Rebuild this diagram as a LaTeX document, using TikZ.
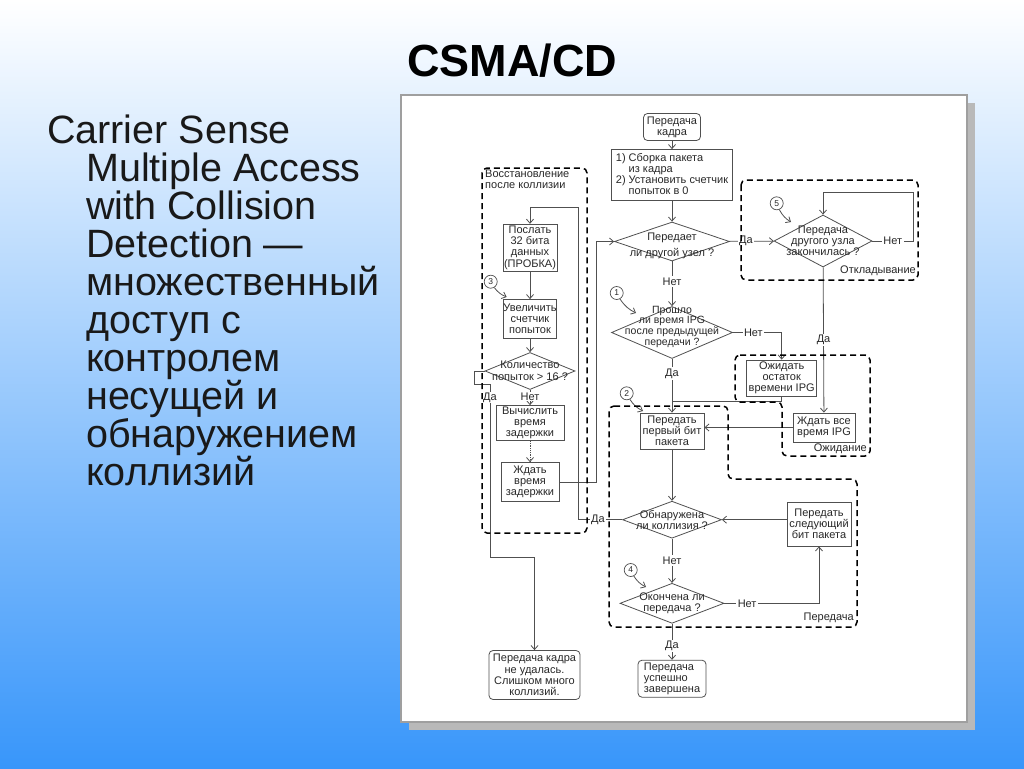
\documentclass[tikz,border=0pt]{standalone}
\usepackage{fontspec}
\setmainfont{Liberation Sans}
\usetikzlibrary{shapes.geometric,arrows.meta}
\definecolor{bgblue}{RGB}{56,150,250}
\definecolor{bgmid}{RGB}{178,208,250}
\definecolor{ln}{RGB}{80,80,80}
\definecolor{tx}{RGB}{40,40,40}
\newcommand{\flowfont}{\fontsize{11}{11.2}\selectfont}
\begin{document}
\begin{tikzpicture}[x=1pt,y=-1pt,
  box/.style={draw=ln, line width=0.8pt, fill=white, inner sep=0pt, align=center, font=\flowfont, text=tx},
  rbox/.style={box, rounded corners=4pt},
  dia/.style={diamond, draw=ln, line width=0.8pt, fill=white, inner sep=0pt},
  dtext/.style={font=\flowfont, text=tx, align=center, inner sep=0pt},
  conn/.style={draw=ln, line width=0.8pt},
  arr/.style={conn, -{Straight Barb[length=4pt,width=7pt]}},
  lbl/.style={font=\flowfont, text=tx, fill=white, inner sep=1.5pt},
  rlabel/.style={font=\flowfont, text=tx, inner sep=0pt},
  region/.style={draw=black, line width=1.5pt, dash pattern=on 6pt off 4pt, rounded corners=5pt},
  num/.style={circle, draw=ln, line width=0.7pt, minimum size=13pt, inner sep=0pt, font=\fontsize{8.5}{8.5}\selectfont, text=tx, fill=white},
  bigtext/.style={font=\fontsize{39.5}{38}\selectfont, text=black!90, inner sep=0pt, anchor=base west},
]
\useasboundingbox (0,0) rectangle (1024,768);
\shade[top color=white, middle color=bgmid, bottom color=bgblue] (0,0) rectangle (1024,768);

% title and left text
\node[font=\fontsize{45}{45}\selectfont\bfseries, anchor=base, inner sep=0pt] (title) at (512,77) {CSMA/CD};
\node[bigtext] (l0) at (47,143) {Carrier Sense};
\foreach \t [count=\i] in {Multiple Access, with Collision, Detection ---, множественный, доступ с, контролем, несущей и, обнаружением, коллизий}
  \node[bigtext] (l\i) at (86,143+38*\i) {\t};

% panel
\fill[gray!55] (409,103) rectangle (975,730);
\draw[gray!75, line width=1.2pt, fill=white] (401,95) rectangle (967,722);

% main column
\node[rbox, minimum width=57pt, minimum height=27pt] (start) at (672,127) {Передача\\кадра};
\node[box, minimum width=121pt, minimum height=51pt, align=left] (init) at (672,175)
  {1) Сборка пакета\\\phantom{1) }из кадра\\2) Установить счетчик\\\phantom{2) }попыток в 0};
\node[dia, minimum width=115pt, minimum height=39pt,
  label={[dtext, yshift=-4pt, font=\fontsize{11}{16}\selectfont]center:{Передает\\ли другой узел ?}}] (d1) at (672,241.5) {};
\node[dia, minimum width=121pt, minimum height=52pt,
  label={[dtext, yshift=6pt, font=\fontsize{10.5}{9.4}\selectfont]center:{Прошло\\ли время IPG\\после предыдущей\\передачи ?}}] (d2) at (672,332.5) {};
\node[box, minimum width=64pt, minimum height=36pt] (first) at (672,431) {Передать\\первый бит\\пакета};
\node[dia, minimum width=99pt, minimum height=37pt,
  label={[dtext]center:{Обнаружена\\ли коллизия ?}}] (d3) at (672,519.7) {};
\node[dia, minimum width=104pt, minimum height=40pt,
  label={[dtext]center:{Окончена ли\\передача ?}}] (d4) at (672,603.3) {};
\node[rbox, minimum width=68pt, minimum height=37pt, align=left] (success) at (672,678.7) {Передача\\успешно\\завершена};

% right column
\node[dia, minimum width=98pt, minimum height=52pt,
  label={[dtext]center:{Передача\\другого узла\\закончилась ?}}] (d5) at (823,241) {};
\node[box, minimum width=70pt, minimum height=36pt] (waitrest) at (781.7,378) {Ожидать\\остаток\\времени IPG};
\node[box, minimum width=62pt, minimum height=29pt] (waitall) at (824,427.5) {Ждать все\\время IPG};
\node[box, minimum width=64pt, minimum height=44pt] (next) at (819,524) {Передать\\следующий\\бит пакета};

% left column
\node[box, minimum width=54pt, minimum height=47pt] (jam) at (530,247.7) {Послать\\32 бита\\данных\\(ПРОБКА)};
\node[box, minimum width=51pt, minimum height=39pt] (inc) at (530,319) {Увеличить\\счетчик\\попыток};
\node[dia, minimum width=90pt, minimum height=37pt,
  label={[dtext, font=\fontsize{11}{12.5}\selectfont]center:{Количество\\попыток > 16 ?}}] (d16) at (530,371) {};
\node[box, minimum width=68pt, minimum height=35pt] (calc) at (530,423) {Вычислить\\время\\задержки};
\node[box, minimum width=58pt, minimum height=39pt] (wait) at (530,482) {Ждать\\время\\задержки};
\node[rbox, minimum width=91pt, minimum height=49pt] (fail) at (534.5,675) {Передача кадра\\не удалась.\\Слишком много\\коллизий.};

% connectors
\coordinate (m1) at (672,401);
\draw[arr] (start) -- (init);
\draw[arr] (init) -- (d1);
\draw[arr] (d1) -- node[lbl,pos=0.45]{Нет} (d2);
\draw[arr] (d2) -- node[lbl,pos=0.27]{Да} (first);
\draw[arr] (d2.east) -- node[lbl,pos=0.42]{Нет} (d2.east -| waitrest.north) -- (waitrest.north);
\draw[conn] (waitrest.south) |- (m1);
\draw[arr] (d1) -- node[lbl,pos=0.37]{Да} (d5);
\draw[arr] (d5.east) -- node[lbl,pos=0.5]{Нет} (913,241) -- (913,192) -| (d5.north);
\draw[arr] (d5) -- node[lbl,pos=0.5]{Да} (waitall);
\draw[arr] (waitall.west) -- (waitall.west -| first.east);
\draw[arr] (first) -- (d3);
\draw[arr] (next.west |- d3.east) -- (d3.east);
\draw[arr] (d3) -- node[lbl,pos=0.5]{Нет} (d4);
\draw[arr] (d4.east) -- node[lbl,pos=0.24]{Нет} (d4.east -| next.south) -- (next.south);
\draw[arr] (d4) -- node[lbl,pos=0.62]{Да} (success);
\draw[arr] (d3.west) -- node[lbl,pos=0.55]{Да} (578,519.7) -- (578,207) -| (jam.north);
\draw[arr] (wait.east) -- (596.7,482) -- (596.7,241.5) -- (d1.west);
\draw[arr] (jam) -- (inc);
\draw[arr] (inc) -- (d16);
\draw[arr] (d16) -- node[lbl,pos=0.45,inner sep=0.5pt]{Нет} (calc);
\draw[arr, densely dotted] (calc) -- (wait);
\draw[arr] (d16.west) -- ++(-10,0) -- ++(0,13) -- (490,384) -- node[lbl,pos=0.08,inner sep=0.5pt]{Да} (490,557) -| (fail.north);

% numbered markers
\node[num] (n1) at (616.7,293) {1};
\node[num] (n2) at (626.7,393.3) {2};
\node[num] (n3) at (490.7,281.7) {3};
\node[num] (n4) at (630.7,570) {4};
\node[num] (n5) at (776.7,203.3) {5};
\coordinate (t1) at (636,313);
\coordinate (t2) at (643,411);
\coordinate (t3) at (506.7,297);
\coordinate (t4) at (646,587);
\coordinate (t5) at (791,222);
\foreach \k in {1,...,5} \draw[arr] (n\k) to[bend right=15] (t\k);

% dashed regions
\draw[region] (482,168) rectangle (587,533);
\draw[region] (741,180) rectangle (918,280);
\draw[region] (735,355) -- (870,355) -- (870,456) -- (782,456) -- (782,402) -- (735,402) -- cycle;
\draw[region] (609,406) -- (728,406) -- (728,479) -- (857,479) -- (857,627) -- (609,627) -- cycle;
\node[rlabel, anchor=north west, align=left] (rl1) at (485,170) {Восстановление\\после коллизии};
\node[rlabel, anchor=south east] (rl2) at (916,276) {Откладывание};
\node[rlabel, anchor=south east] (rl3) at (867,453.5) {Ожидание};
\node[rlabel, anchor=south east] (rl4) at (854,623) {Передача};
\end{tikzpicture}
\end{document}
